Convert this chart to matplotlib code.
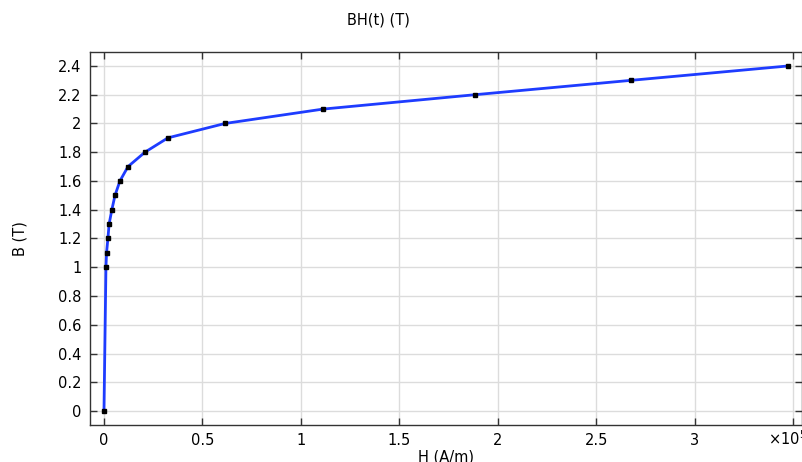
import matplotlib.pyplot as plt
from matplotlib.ticker import FuncFormatter, MultipleLocator

# BH curve
B_T = [0.0, 1.0, 1.1, 1.2, 1.3, 1.4, 1.5, 1.6, 1.7, 1.8,
       1.9, 2.0, 2.1, 2.2, 2.3, 2.4]
H_Am = [0, 1000, 1300, 2000, 2600, 4000, 5600, 8100, 12200, 20800,
        32500, 61500, 111300, 188500, 267800, 347600]

TITLE = 'BH(t) (T)'
XLABEL = 'H (A/m)'
YLABEL = 'B (T)'


def xfmt(v, p):
    # last tick (3.5) carries the exponent instead of a number
    if v > 3.2e5:
        return ''
    return '%g' % round(v / 1e5, 2)


plt.rcParams['font.family'] = ['DejaVu Sans']

fig = plt.figure(figsize=(8.03, 4.62), dpi=100)
ax = fig.add_axes([90 / 803, 1 - 425 / 462, 712 / 803, 373 / 462])

ax.plot(H_Am, B_T, color='#1e3cff', lw=2, zorder=3)
ax.plot(H_Am, B_T, ls='none', marker='s', ms=3, color='black', zorder=4)

ax.set_xlim(-0.071e5, 3.546e5)
ax.set_ylim(-0.097, 2.497)
ax.xaxis.set_major_locator(MultipleLocator(0.5e5))
ax.yaxis.set_major_locator(MultipleLocator(0.2))
ax.xaxis.set_major_formatter(FuncFormatter(xfmt))
ax.yaxis.set_major_formatter(FuncFormatter(lambda v, p: '%g' % round(v, 2)))

ax.grid(True, color='#dcdcdc', lw=1)
ax.set_axisbelow(True)
ax.tick_params(direction='in', top=True, right=True, length=5, width=1,
               labelsize=10.5, colors='#333333', labelcolor='black', pad=6)
for s in ax.spines.values():
    s.set_color('#333333')
    s.set_linewidth(1)

ax.set_xlabel(XLABEL, fontsize=10.5, labelpad=1)
ax.set_ylabel(YLABEL, fontsize=10.5, labelpad=22)
fig.text(378 / 803, 1 - 20 / 462, TITLE, ha='center', va='center', fontsize=10.5)
fig.text(768 / 803, 1 - 439 / 462, '×10$^{5}$', ha='left', va='center', fontsize=10.5)

fig.savefig('out.png', dpi=100)
